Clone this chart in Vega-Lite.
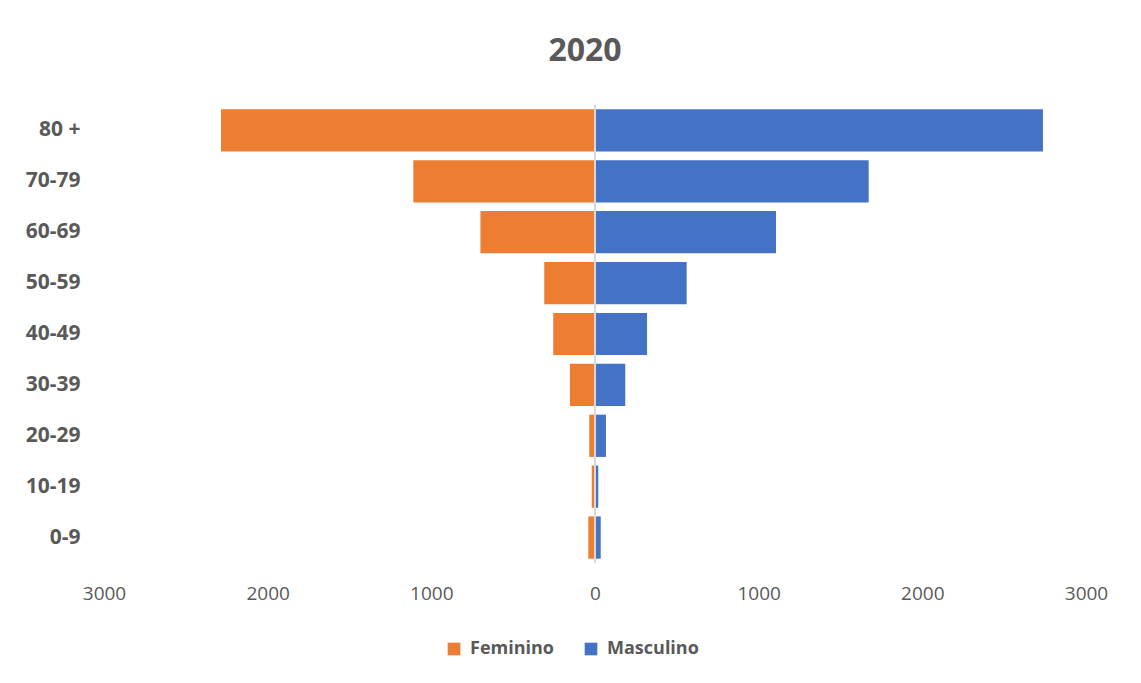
{
  "$schema": "https://vega.github.io/schema/vega-lite/v6.json",
  "width": 982,
  "height": 458,
  "autosize": {"type": "none"},
  "padding": {"left": 104, "top": 105, "right": 55, "bottom": 120},
  "background": "white",
  "title": {
    "text": "2020",
    "fontSize": 32,
    "font": "Open Sans",
    "fontWeight": "bold",
    "color": "#595959",
    "anchor": "middle",
    "baseline": "alphabetic",
    "offset": 11,
    "dx": -10
  },
  "data": {
    "values": [
      {"age": "80 +", "sex": "Feminino", "value": -2285},
      {"age": "80 +", "sex": "Masculino", "value": 2737},
      {"age": "70-79", "sex": "Feminino", "value": -1110},
      {"age": "70-79", "sex": "Masculino", "value": 1672},
      {"age": "60-69", "sex": "Feminino", "value": -700},
      {"age": "60-69", "sex": "Masculino", "value": 1106},
      {"age": "50-59", "sex": "Feminino", "value": -310},
      {"age": "50-59", "sex": "Masculino", "value": 560},
      {"age": "40-49", "sex": "Feminino", "value": -255},
      {"age": "40-49", "sex": "Masculino", "value": 318},
      {"age": "30-39", "sex": "Feminino", "value": -153},
      {"age": "30-39", "sex": "Masculino", "value": 185},
      {"age": "20-29", "sex": "Feminino", "value": -35},
      {"age": "20-29", "sex": "Masculino", "value": 67},
      {"age": "10-19", "sex": "Feminino", "value": -20},
      {"age": "10-19", "sex": "Masculino", "value": 20},
      {"age": "0-9", "sex": "Feminino", "value": -41},
      {"age": "0-9", "sex": "Masculino", "value": 35}
    ]
  },
  "layer": [
    {
      "mark": {"type": "bar"},
      "encoding": {
        "y": {
          "field": "age",
          "type": "nominal",
          "sort": ["80 +", "70-79", "60-69", "50-59", "40-49", "30-39", "20-29", "10-19", "0-9"],
          "scale": {"paddingInner": 0.17, "paddingOuter": 0.085},
          "axis": {
            "title": null,
            "domain": false,
            "ticks": false,
            "tickSize": 0,
            "labelPadding": 24,
            "labelFont": "Open Sans",
            "labelFontSize": 21,
            "labelFontWeight": "bold",
            "labelColor": "#595959"
          }
        },
        "x": {
          "field": "value",
          "type": "quantitative",
          "stack": null,
          "scale": {"domain": [-3000, 3000], "nice": false},
          "axis": {
            "title": null,
            "grid": false,
            "domain": false,
            "ticks": false,
            "tickSize": 0,
            "labelFlush": false,
            "labelOverlap": false,
            "values": [-3000, -2000, -1000, 0, 1000, 2000, 3000],
            "labelExpr": "format(abs(datum.value), 'd')",
            "labelFont": "Open Sans",
            "labelFontSize": 19,
            "labelColor": "#595959",
            "labelPadding": 21
          }
        },
        "color": {
          "field": "sex",
          "type": "nominal",
          "scale": {"domain": ["Feminino", "Masculino"], "range": ["#ED7D31", "#4472C4"]},
          "legend": {
            "title": null,
            "orient": "none",
            "legendX": 341,
            "legendY": 535,
            "direction": "horizontal",
            "symbolType": "square",
            "symbolSize": 160,
            "symbolStrokeWidth": 0,
            "labelFont": "Open Sans",
            "labelFontSize": 18,
            "labelFontWeight": "bold",
            "labelColor": "#595959",
            "labelOffset": 7,
            "columnPadding": 28
          }
        }
      }
    },
    {
      "mark": {"type": "rule", "color": "#d9d9d9", "strokeWidth": 1.5},
      "encoding": {"x": {"datum": 0}}
    }
  ],
  "config": {"view": {"stroke": null}}
}
